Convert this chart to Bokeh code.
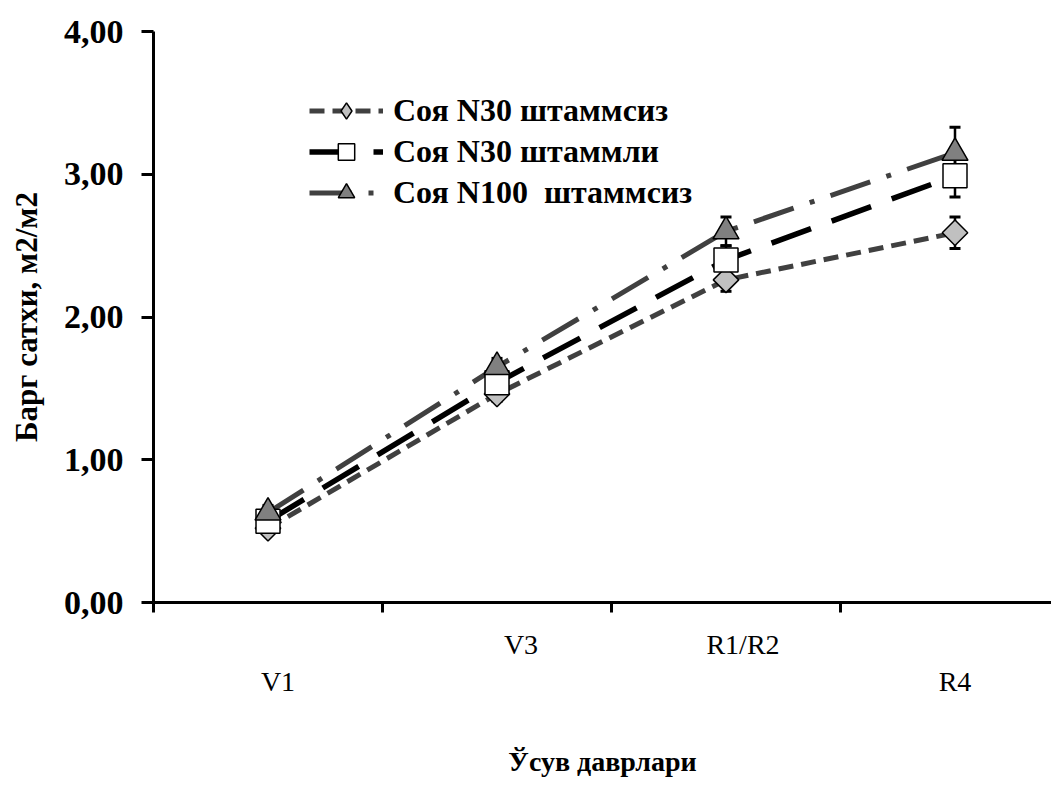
import numpy as np
from bokeh.plotting import figure
from bokeh.models import (Range1d, FixedTicker, Legend, LegendItem, LinearAxis,
                          ColumnDataSource)
from bokeh.embed import file_html
from bokeh.resources import INLINE

# ---------------- data ----------------
stages = ["V1", "V3", "R1/R2", "R4"]
y_tick_values = [0, 1, 2, 3, 4]
y_tick_labels = ["0,00", "1,00", "2,00", "3,00", "4,00"]

series_names = ["Соя N30 штаммсиз", "Соя N30 штаммли", "Соя N100  штаммсиз"]
soy_n30_no_strain = [0.52, 1.46, 2.26, 2.59]
soy_n30_no_strain_err = [0.03, 0.05, 0.08, 0.11]
soy_n30_strain = [0.57, 1.54, 2.40, 2.99]
soy_n30_strain_err = [0.04, 0.06, 0.10, 0.15]
soy_n100_no_strain = [0.63, 1.65, 2.60, 3.15]
soy_n100_no_strain_err = [0.05, 0.06, 0.10, 0.18]

y_title = "Барг сатхи, м2/м2"
x_title = "Ўсув даврлари"

# ---------------- layout ----------------
FL, FT = 153, 31
frame_w, frame_h = 898, 571
px_per_cat = 229
x_end = frame_w / px_per_cat

SERIF = "Liberation Serif"

p = figure(frame_width=frame_w, frame_height=frame_h, output_backend="svg",
           toolbar_location=None,
           x_range=Range1d(0, x_end), y_range=Range1d(0, 4),
           min_border_left=FL, min_border_top=FT, min_border_bottom=0,
           min_border_right=0)
p.title.visible = False
p.grid.visible = False
p.outline_line_color = None
p.background_fill_color = "white"
p.border_fill_color = "white"

xs = [i + 0.5 for i in range(len(stages))]

styles = [
    dict(y=soy_n30_no_strain, err=soy_n30_no_strain_err, color="#404040",
         dash="15 8", width=5, marker="square", angle=np.pi / 4, size=18, fill="#c0c0c0"),
    dict(y=soy_n30_strain, err=soy_n30_strain_err, color="#000000",
         dash="42 22", width=5.5, marker="square", angle=0.0, size=24, fill="#ffffff"),
    dict(y=soy_n100_no_strain, err=soy_n100_no_strain_err, color="#404040",
         dash="42 17 5 17", width=5, marker="triangle", angle=0.0, size=26, fill="#808080"),
]

sources = []
for st in styles:
    up = [v + e for v, e in zip(st["y"], st["err"])]
    lo = [v - e for v, e in zip(st["y"], st["err"])]
    sources.append(ColumnDataSource(dict(x=xs, y=st["y"], up=up, lo=lo)))

line_rs = []
for st, src in zip(styles, sources):
    r = p.line("x", "y", source=src, line_color=st["color"], line_width=st["width"],
               line_dash=st["dash"])
    line_rs.append(r)

for src in sources:
    p.segment(x0="x", y0="lo", x1="x", y1="up", source=src, line_color="black", line_width=2.5)
    p.scatter("x", "up", source=src, marker="dash", size=11, line_color="black", line_width=3)
    p.scatter("x", "lo", source=src, marker="dash", size=11, line_color="black", line_width=3)

# diamond swatch for the legend (sits hidden under the rotated-square markers)
legend_diamond = p.scatter("x", "y", source=sources[0], marker="diamond", size=20,
                           fill_color=styles[0]["fill"], line_color="black", line_width=1.5)

marker_rs = []
for st, src in zip(styles, sources):
    r = p.scatter("x", "y", source=src, marker=st["marker"], size=st["size"], angle=st["angle"],
                  fill_color=st["fill"], line_color="black", line_width=1.5)
    marker_rs.append(r)

# ---------------- y axis ----------------
yax = p.yaxis[0]
yax.ticker = FixedTicker(ticks=y_tick_values)
yax.major_label_overrides = {v: t for v, t in zip(y_tick_values, y_tick_labels)}
yax.major_label_text_font = SERIF
yax.major_label_text_font_style = "bold"
yax.major_label_text_font_size = "34px"
yax.major_label_text_color = "black"
yax.major_label_standoff = 18
yax.axis_line_width = 3
yax.axis_line_color = "black"
yax.major_tick_line_width = 3
yax.major_tick_out = 12
yax.major_tick_in = 0
yax.minor_tick_line_color = None
yax.axis_label = y_title
yax.axis_label_text_font = SERIF
yax.axis_label_text_font_style = "bold"
yax.axis_label_text_font_size = "31px"
yax.axis_label_text_color = "black"
yax.axis_label_standoff = 17

# ---------------- x axes (staggered category labels) ----------------
shift_px = [10, 24, 17, 0]          # label nudges, as in the reference
label_pos = [round(x + s / px_per_cat, 4) for x, s in zip(xs, shift_px)]
upper_row = [1, 2]                  # V3, R1/R2 on the first row
lower_row = [0, 3]                  # V1, R4 on the second row

xax = p.xaxis[0]
xax.ticker = FixedTicker(ticks=[label_pos[i] for i in upper_row],
                         minor_ticks=list(range(len(stages) + 1)))
xax.major_label_overrides = {label_pos[i]: stages[i] for i in upper_row}
xax.major_label_text_font = SERIF
xax.major_label_text_font_size = "28px"
xax.major_label_text_color = "black"
xax.major_label_standoff = 16
xax.axis_line_width = 3
xax.axis_line_color = "black"
xax.major_tick_line_color = None
xax.major_tick_out = 0
xax.major_tick_in = 0
xax.minor_tick_line_color = "black"
xax.minor_tick_line_width = 3
xax.minor_tick_out = 10
xax.minor_tick_in = 0

xax2 = LinearAxis(ticker=FixedTicker(ticks=[label_pos[i] for i in lower_row], minor_ticks=[]),
                  major_label_overrides={label_pos[i]: stages[i] for i in lower_row},
                  major_label_text_font=SERIF, major_label_text_font_size="28px",
                  major_label_text_color="black", major_label_standoff=3,
                  axis_line_color=None, major_tick_line_color=None,
                  minor_tick_line_color=None, major_tick_out=0, major_tick_in=0,
                  axis_label=x_title, axis_label_text_font=SERIF,
                  axis_label_text_font_style="bold", axis_label_text_font_size="28px",
                  axis_label_text_color="black", axis_label_standoff=46)
p.add_layout(xax2, "below")

# ---------------- legend ----------------
legend_markers = [legend_diamond, marker_rs[1], marker_rs[2]]
items = [LegendItem(label=n, renderers=[lr, mr])
         for n, lr, mr in zip(series_names, line_rs, legend_markers)]
legend = Legend(items=items, location=(156, 389), orientation="vertical",
                label_text_font=SERIF, label_text_font_style="bold",
                label_text_font_size="32px", label_text_color="black",
                glyph_width=74, glyph_height=41, label_height=41, label_standoff=10,
                spacing=0, padding=0, margin=0, border_line_color=None,
                background_fill_alpha=0)
p.add_layout(legend)

open("out.html", "w").write(file_html(p, INLINE))
